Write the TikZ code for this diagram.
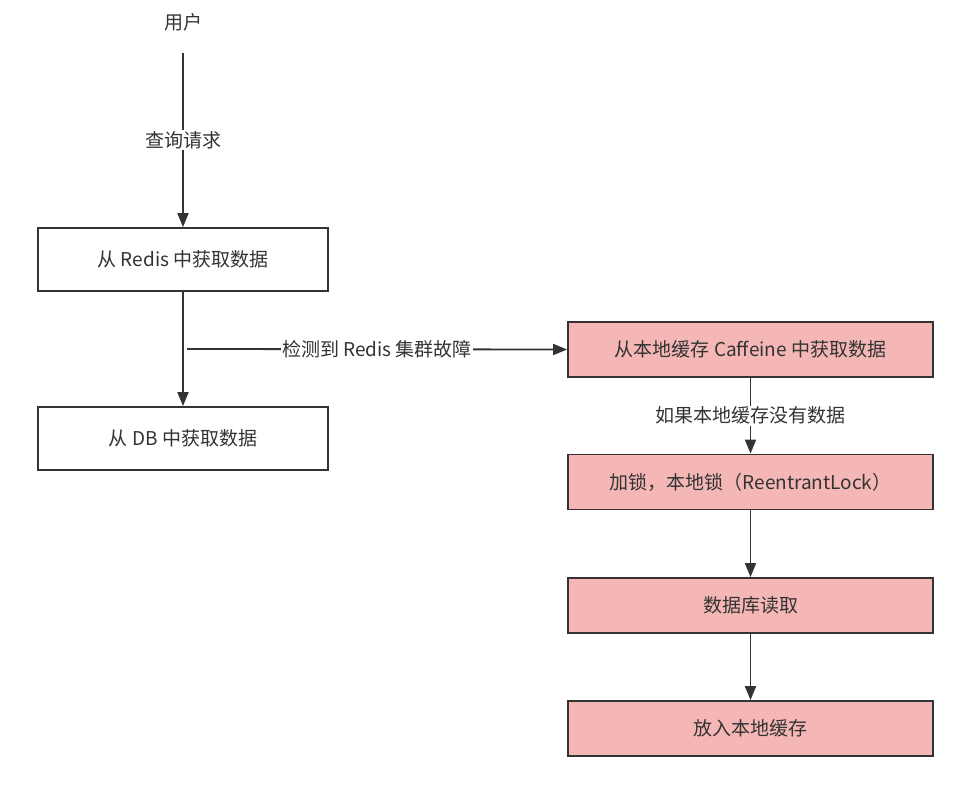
\documentclass[tikz,border=0pt]{standalone}
\usepackage{fontspec}
\setmainfont{Noto Sans CJK SC}
\usepackage{xcolor}
\usetikzlibrary{arrows.meta,positioning}
\definecolor{linec}{HTML}{333333}
\definecolor{pinkc}{HTML}{F4B7B5}

\begin{document}
\begin{tikzpicture}[x=1pt,y=-1pt,line width=1.8pt,>={Triangle[length=14pt,width=11pt]},
  box/.style={draw=linec,minimum width=290pt,minimum height=63pt,font=\fontsize{19}{21}\selectfont,text=linec,inner sep=0pt},
  pbox/.style={box,fill=pinkc,minimum width=365pt,minimum height=55pt},
  lbl/.style={fill=white,font=\fontsize{19}{21}\selectfont,text=linec,inner sep=1pt}]
\useasboundingbox (0,0) rectangle (961,794);
\node[font=\fontsize{19}{21}\selectfont,text=linec,minimum height=60pt] (user) at (183,22) {用户};
\node[box] (redis) at (183,259.5) {从 Redis 中获取数据};
\node[box] (db) at (183,438.5) {从 DB 中获取数据};
\node[pbox] (caff) at (750.5,349.5) {从本地缓存 Caffeine 中获取数据};
\node[pbox] (lock) at (750.5,482) {加锁，本地锁（ReentrantLock）};
\node[pbox] (read) at (750.5,605.5) {数据库读取};
\node[pbox] (put) at (750.5,728.5) {放入本地缓存};
\coordinate (split) at (187,349);
% left column
\draw[->,linec] (user) -- node[lbl]{查询请求} (redis);
\draw[->,linec] (redis) -- (db);
\draw[->,linec] (split) -- node[lbl]{检测到 Redis 集群故障} (caff.west);
% right column
\draw[->,linec] (caff) -- node[lbl]{如果本地缓存没有数据} (lock);
\draw[->,linec] (lock) -- (read);
\draw[->,linec] (read) -- (put);
\end{tikzpicture}
\end{document}
